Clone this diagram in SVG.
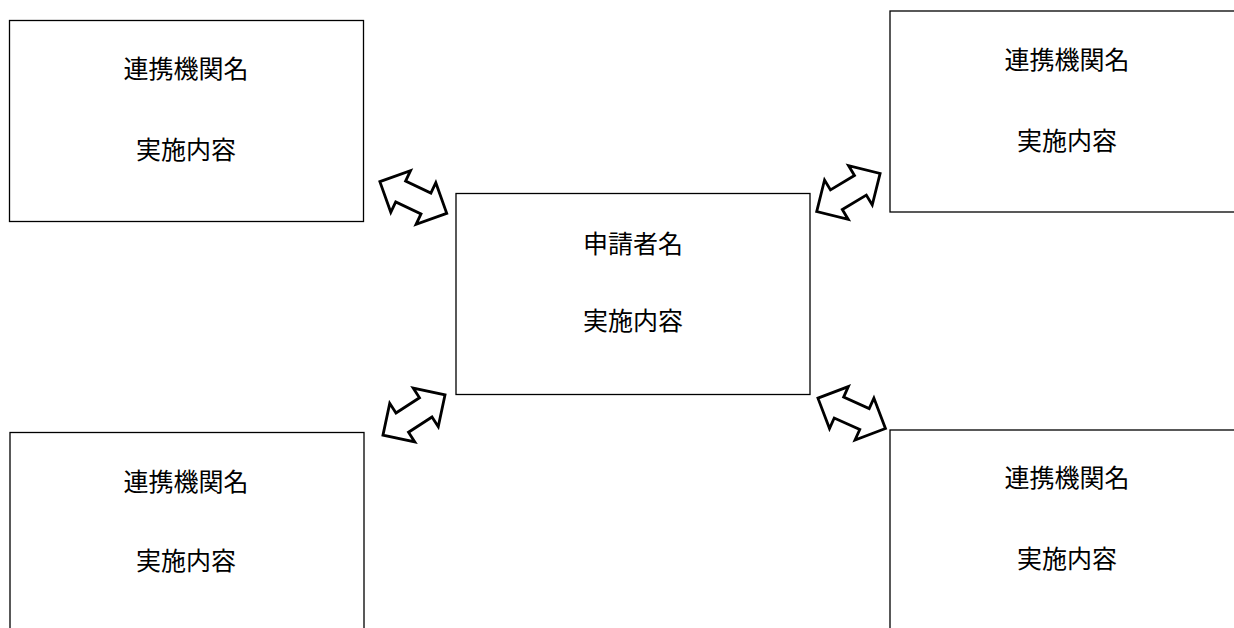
<svg xmlns="http://www.w3.org/2000/svg" width="1234" height="628" viewBox="0 0 1234 628">
<defs>
<style>
.box{fill:#fff;stroke:#000;stroke-width:1.3}
.t{font-family:"Noto Sans CJK JP","Noto Sans CJK SC",sans-serif;font-size:25px;fill:#000;text-anchor:middle}
.arr{fill:#fff;stroke:#000;stroke-width:2.8;stroke-linejoin:miter}
</style>
<path id="dbl" d="M-37,0 L-14,-23 L-14,-11.5 L14,-11.5 L14,-23 L37,0 L14,23 L14,11.5 L-14,11.5 L-14,23 Z"/>
</defs>
<rect width="1234" height="628" fill="#fff"/>
<g id="node-tl">
<rect class="box" x="9.5" y="20.5" width="354" height="201"/>
<text class="t" x="186" y="78">連携機関名</text>
<text class="t" x="186" y="159">実施内容</text>
</g>
<g id="node-tr">
<rect class="box" x="890" y="11" width="360" height="201"/>
<text class="t" x="1067" y="69">連携機関名</text>
<text class="t" x="1067" y="150">実施内容</text>
</g>
<g id="node-center">
<rect class="box" x="456" y="193.5" width="354" height="201"/>
<text class="t" x="633" y="253">申請者名</text>
<text class="t" x="633" y="330">実施内容</text>
</g>
<g id="node-bl">
<rect class="box" x="10" y="432.5" width="354" height="210"/>
<text class="t" x="186" y="490.5">連携機関名</text>
<text class="t" x="186" y="570">実施内容</text>
</g>
<g id="node-br">
<rect class="box" x="890" y="430" width="360" height="210"/>
<text class="t" x="1067" y="487">連携機関名</text>
<text class="t" x="1067" y="568">実施内容</text>
</g>
<g id="connectors">
<use href="#dbl" class="arr" transform="translate(413.3,197.5) rotate(25.4)"/>
<use href="#dbl" class="arr" transform="translate(414,415) rotate(-33)"/>
<use href="#dbl" class="arr" transform="translate(848.4,192.5) rotate(-31)"/>
<use href="#dbl" class="arr" transform="translate(851.7,413.3) rotate(24.2)"/>
</g>
</svg>
